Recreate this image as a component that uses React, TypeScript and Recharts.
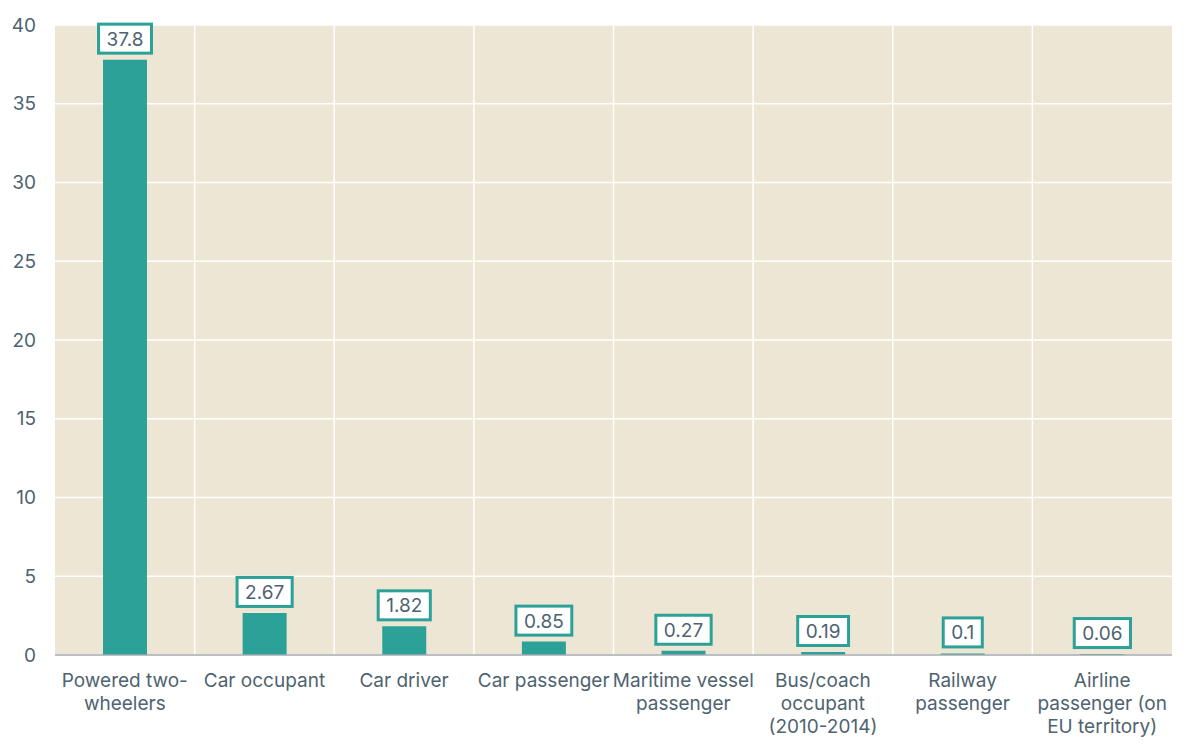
import React from "react";
import {
  BarChart,
  Bar,
  XAxis,
  YAxis,
  CartesianGrid,
  LabelList,
} from "recharts";

// Categorías (con saltos de línea como en el original)
const categorias = [
  "Powered two-\nwheelers",
  "Car occupant",
  "Car driver",
  "Car passenger",
  "Maritime vessel\npassenger",
  "Bus/coach\noccupant\n(2010-2014)",
  "Railway\npassenger",
  "Airline\npassenger (on\nEU territory)",
];

const valores = [37.8, 2.67, 1.82, 0.85, 0.27, 0.19, 0.1, 0.06];

const ticksY = [0, 5, 10, 15, 20, 25, 30, 35, 40];

const TEAL = "#2BA197";
const TEXTO = "#4E6370";
const FUENTE = "Inter, 'Noto Sans', sans-serif";
const TAM = 19;

const data = categorias.map((c, i) => ({ categoria: c, valor: valores[i] }));

let ctx: CanvasRenderingContext2D | null = null;
function anchoTexto(t: string) {
  if (!ctx) ctx = document.createElement("canvas").getContext("2d");
  if (!ctx) return t.length * 10;
  ctx.font = `${TAM}px Inter`;
  return ctx.measureText(t).width;
}

function EtiquetaCaja(props: any) {
  const { x, y, width, value } = props;
  const txt = String(value);
  const w = anchoTexto(txt) + 16;
  const h = 29;
  const cx = x + width / 2;
  const bottom = y - 6.5;
  return (
    <g>
      <rect
        x={cx - w / 2}
        y={bottom - h}
        width={w}
        height={h}
        fill="#fff"
        stroke={TEAL}
        strokeWidth={3}
      />
      <text
        x={cx}
        y={bottom - h / 2 + 7}
        textAnchor="middle"
        fontSize={TAM}
        fontFamily={FUENTE}
        fill={TEXTO}
      >
        {txt}
      </text>
    </g>
  );
}

function TickX(props: any) {
  const { x, y, payload } = props;
  const lineas = String(payload.value).split("\n");
  return (
    <text
      x={x}
      y={y + 30}
      textAnchor="middle"
      fontSize={TAM}
      fontFamily={FUENTE}
      fill={TEXTO}
    >
      {lineas.map((l, i) => (
        <tspan key={i} x={x} dy={i === 0 ? 0 : 23}>
          {l}
        </tspan>
      ))}
    </text>
  );
}

export default function App() {
  return (
    <div style={{ position: "absolute", left: 0, top: 0, width: 1200, height: 752, background: "#fff" }}>
      <BarChart
        width={1200}
        height={752}
        data={data}
        margin={{ top: 25, right: 28, bottom: 7, left: 0 }}
        barCategoryGap={0}
      >
        <CartesianGrid
          fill="#EEE6D4"
          stroke="#ffffff"
          strokeWidth={1.5}
          verticalCoordinatesGenerator={({ offset }: any) =>
            [1, 2, 3, 4, 5, 6, 7].map((i) => offset.left + (i * offset.width) / 8)
          }
        />
        <XAxis
          dataKey="categoria"
          height={90}
          interval={0}
          tickLine={false}
          tickSize={0}
          axisLine={{ stroke: "#A3ABAF", strokeWidth: 1.5 }}
          tick={<TickX />}
        />
        <YAxis
          width={55}
          domain={[0, 40]}
          ticks={ticksY}
          axisLine={false}
          tickLine={false}
          tickSize={0}
          tickMargin={19}
          tick={{ fontSize: TAM, fontFamily: FUENTE, fill: TEXTO }}
        />
        <Bar dataKey="valor" fill={TEAL} barSize={44} isAnimationActive={false}>
          <LabelList dataKey="valor" content={<EtiquetaCaja />} />
        </Bar>
      </BarChart>
    </div>
  );
}
